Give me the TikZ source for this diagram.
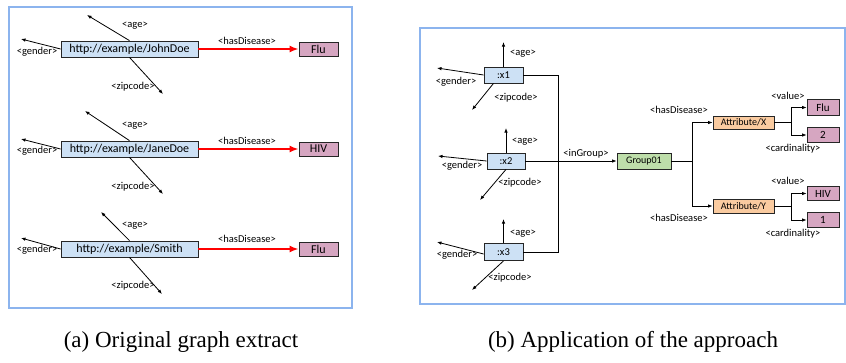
\documentclass[tikz,border=0pt]{standalone}
\usepackage{fontspec}
\setmainfont{Liberation Serif}
\newfontfamily\carlito{Carlito}
\usepackage{tikz}
\usetikzlibrary{arrows.meta}
\definecolor{uriblue}{RGB}{205,225,245}
\definecolor{litpink}{RGB}{214,166,193}
\definecolor{grpgreen}{RGB}{190,222,170}
\definecolor{attrorange}{RGB}{250,203,160}
\definecolor{framec}{RGB}{140,180,238}
\tikzset{
    urinode/.style = {rectangle, draw=black!85, thick, fill=uriblue, inner sep=0pt, font=\carlito\fontsize{12}{14}\selectfont},
    urinodeb/.style = {urinode, font=\carlito\fontsize{10.5}{12}\selectfont},
    litnode/.style = {rectangle, draw=black!85, thick, fill=litpink, inner sep=0pt, minimum width=39pt, minimum height=14pt, font=\carlito\fontsize{12}{14}\selectfont},
    litnodeb/.style = {litnode, minimum width=32pt, font=\carlito\fontsize{11}{13}\selectfont},
    grpnode/.style = {rectangle, draw=black!85, thick, fill=grpgreen, inner sep=0pt, font=\carlito\fontsize{10}{12}\selectfont},
    attrnode/.style = {rectangle, draw=black!85, thick, fill=attrorange, inner sep=0pt, font=\carlito\fontsize{10}{12}\selectfont},
    lbl/.style = {inner sep=0pt, font=\carlito\fontsize{10.5}{12}\selectfont},
    edgen/.style = {-{Latex[length=4.5pt,width=3.5pt]}, line width=0.8pt},
    edgel/.style = {line width=0.8pt},
    edger/.style = {-{Latex[length=9pt,width=7pt]}, line width=1.7pt, red},
    frame/.style = {draw=framec, line width=1.2pt},
    capt/.style = {inner sep=0pt, font=\fontsize{23}{26}\selectfont}
}
\begin{document}
\begin{tikzpicture}[x=1pt, y=-1pt]
  \useasboundingbox (0,0) rectangle (846,362);
  % frames
  \draw[frame] (9,7) rectangle (352,308);
  \draw[frame] (420,28) rectangle (845,304);

  % (a) original graph
  \node[urinode, minimum width=137pt, minimum height=16pt] (john) at (129.5,49) {http://example/JohnDoe};
  \node[litnode] (flu1) at (318.5,49) {Flu};
  \coordinate (johnage) at (87,15);
  \coordinate (johngen) at (21,39);
  \coordinate (johnzip) at (163,94);
  \draw[edgen] (john.north) -- (johnage);
  \draw[edgen] (john.west) -- (johngen);
  \draw[edgen] (john.south) -- (johnzip);
  \draw[edger] (john.east) -- (flu1.west);
  \node[lbl] (l1) at (135,26) {<age>};
  \node[lbl] (l2) at (37,52) {<gender>};
  \node[lbl] (l3) at (133,87) {<zipcode>};
  \node[lbl] (l4) at (247,41) {<hasDisease>};

  \node[urinode, minimum width=137pt, minimum height=16pt] (jane) at (129.5,149) {http://example/JaneDoe};
  \node[litnode] (hiv1) at (318.5,149) {HIV};
  \coordinate (janeage) at (85,111);
  \coordinate (janegen) at (21,139);
  \coordinate (janezip) at (163,194);
  \draw[edgen] (jane.north) -- (janeage);
  \draw[edgen] (jane.west) -- (janegen);
  \draw[edgen] (jane.south) -- (janezip);
  \draw[edger] (jane.east) -- (hiv1.west);
  \node[lbl] (l5) at (135,126) {<age>};
  \node[lbl] (l6) at (37,151) {<gender>};
  \node[lbl] (l7) at (133,187) {<zipcode>};
  \node[lbl] (l8) at (247,141) {<hasDisease>};

  \node[urinode, minimum width=137pt, minimum height=16pt] (smith) at (129.5,249) {http://example/Smith};
  \node[litnode] (flu2) at (318.5,249) {Flu};
  \coordinate (smithage) at (101,212);
  \coordinate (smithgen) at (21,238);
  \coordinate (smithzip) at (162,294);
  \draw[edgen] (smith.north) -- (smithage);
  \draw[edgen] (smith.west) -- (smithgen);
  \draw[edgen] (smith.south) -- (smithzip);
  \draw[edger] (smith.east) -- (flu2.west);
  \node[lbl] (l9) at (135,226) {<age>};
  \node[lbl] (l10) at (37,250) {<gender>};
  \node[lbl] (l11) at (133,286) {<zipcode>};
  \node[lbl] (l12) at (247,239) {<hasDisease>};

  % (b) application of the approach
  \node[urinodeb, minimum width=39pt, minimum height=16pt] (x1) at (503.5,75) {:x1};
  \node[urinodeb, minimum width=38pt, minimum height=16pt] (x2) at (506,161) {:x2};
  \node[urinodeb, minimum width=39pt, minimum height=17pt] (x3) at (503.5,252) {:x3};
  \coordinate (x1age) at (503.5,42);
  \coordinate (x1gen) at (437,68);
  \coordinate (x1zip) at (472,110);
  \coordinate (x2age) at (506,128);
  \coordinate (x2gen) at (438,156);
  \coordinate (x2zip) at (480,200);
  \coordinate (x3age) at (503.5,219);
  \coordinate (x3gen) at (437,242);
  \coordinate (x3zip) at (472,290);
  \draw[edgen] (x1.north) -- (x1age);
  \draw[edgen] (x1.west) -- (x1gen);
  \draw[edgen] ([xshift=-10pt]x1.south) -- (x1zip);
  \draw[edgen] (x2.north) -- (x2age);
  \draw[edgen] (x2.west) -- (x2gen);
  \draw[edgen] (x2.south) -- (x2zip);
  \draw[edgen] (x3.north) -- (x3age);
  \draw[edgen] ([yshift=-2pt]x3.west) -- (x3gen);
  \draw[edgen] (x3.south) -- (x3zip);
  \node[lbl, anchor=west] (m1) at (510,54) {<age>};
  \node[lbl] (m2) at (456,82) {<gender>};
  \node[lbl] (m3) at (516,98) {<zipcode>};
  \node[lbl, anchor=west] (m4) at (512,142) {<age>};
  \node[lbl] (m5) at (462,166) {<gender>};
  \node[lbl] (m6) at (520,183) {<zipcode>};
  \node[lbl, anchor=west] (m7) at (510,234) {<age>};
  \node[lbl] (m8) at (457,255) {<gender>};
  \node[lbl] (m9) at (510,278) {<zipcode>};

  \node[grpnode, minimum width=54pt, minimum height=16pt] (grp) at (644,161) {Group01};
  \coordinate (jn) at (558,161);
  \draw[edgel] (x1.east) -| (jn);
  \draw[edgel] (x3.east) -| (jn);
  \draw[edgen] (x2.east) -- (grp.west);
  \node[lbl] (m10) at (586,154) {<inGroup>};

  \node[attrnode, minimum width=61pt, minimum height=13pt] (attx) at (743.5,122.5) {Attribute/X};
  \node[attrnode, minimum width=61pt, minimum height=14pt] (atty) at (743.5,206) {Attribute/Y};
  \coordinate (br1) at (692,161);
  \draw[edgel] (grp.east) -- (br1);
  \draw[edgen] (br1) |- (attx.west);
  \draw[edgen] (br1) |- (atty.west);
  \node[lbl] (m11) at (679,110) {<hasDisease>};
  \node[lbl] (m12) at (679,218) {<hasDisease>};

  \node[litnodeb, minimum height=16pt] (flu3) at (823,107.5) {Flu};
  \node[litnodeb, minimum height=15pt] (card2) at (823,135) {2};
  \node[litnodeb, minimum height=14pt] (hiv2) at (823,193.5) {HIV};
  \node[litnodeb, minimum height=15pt] (card1) at (823,220) {1};
  \coordinate (br2) at (791,122.5);
  \coordinate (br3) at (791,206);
  \draw[edgel] (attx.east) -- (br2);
  \draw[edgen] (br2) |- (flu3.west);
  \draw[edgen] (br2) |- (card2.west);
  \draw[edgel] (atty.east) -- (br3);
  \draw[edgen] (br3) |- (hiv2.west);
  \draw[edgen] (br3) |- (card1.west);
  \node[lbl] (m13) at (788,96) {<value>};
  \node[lbl] (m14) at (793,149) {<cardinality>};
  \node[lbl] (m15) at (788,181) {<value>};
  \node[lbl] (m16) at (793,234) {<cardinality>};

  % captions
  \node[capt] (capa) at (181,342) {(a) Original graph extract};
  \node[capt] (capb) at (633,342) {(b) Application of the approach};
\end{tikzpicture}
\end{document}
